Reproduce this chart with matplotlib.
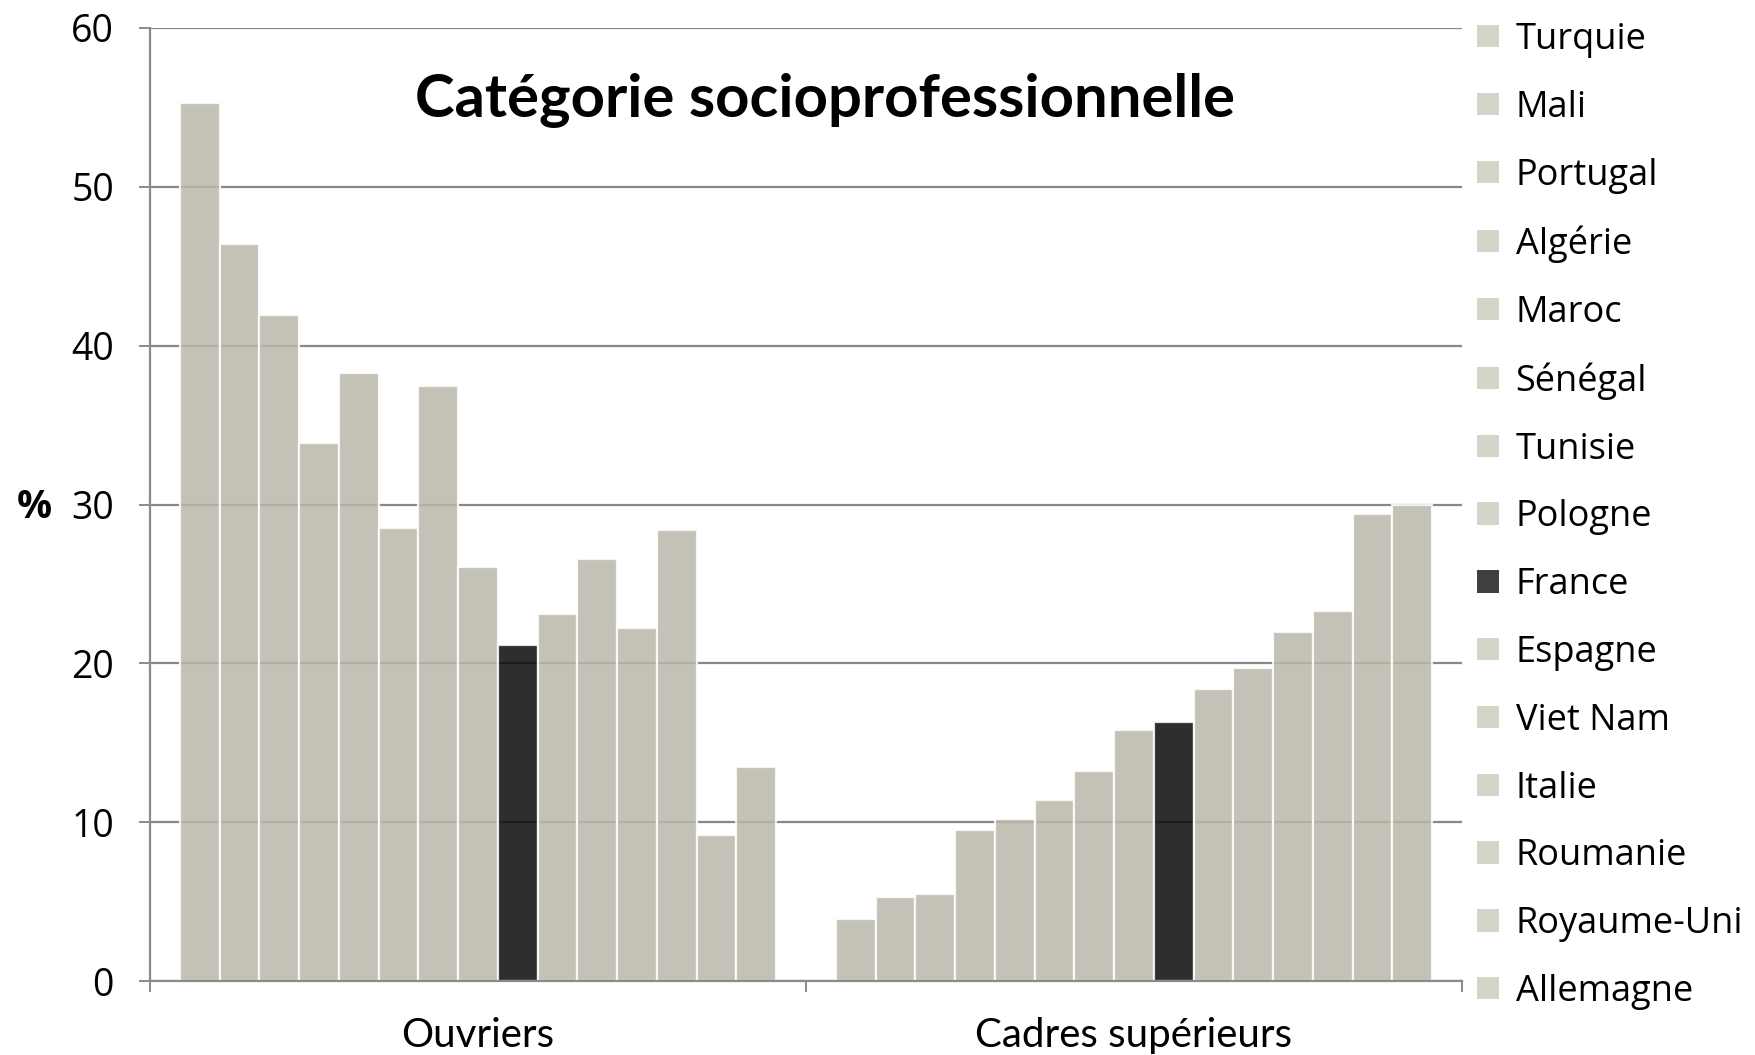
import matplotlib
matplotlib.use("Agg")
import matplotlib.pyplot as plt
from matplotlib.patches import Patch
import numpy as np

categories = ["Ouvriers", "Cadres supérieurs"]
countries_ouvriers = ["Turquie", "Mali", "Portugal", "Algérie", "Maroc", "Sénégal", "Tunisie",
                      "Pologne", "France", "Espagne", "Viet Nam", "Italie", "Roumanie",
                      "Royaume-Uni", "Allemagne"]
ouvriers = [55.25, 46.4, 41.9, 33.85, 38.25, 28.5, 37.45, 26.05, 21.15, 23.1, 26.55, 22.2, 28.4, 9.2, 13.5]
# cadres supérieurs, same series order as the legend
cadres = [3.9, 5.3, 5.5, 9.5, 10.2, 11.4, 13.2, 15.8, 16.3, 18.4, 19.7, 22.0, 23.3, 29.4, 30.0]
yticks = [0, 10, 20, 30, 40, 50, 60]
highlight = "France"

bar_col = (186/255, 184/255, 169/255)
fr_col = (9/255, 9/255, 9/255)
leg_col = "#D5D4C9"
leg_fr = "#404040"

fig = plt.figure(figsize=(17.56, 10.55), dpi=100)
ax = fig.add_axes([150/1756, 1-981/1055, (1462-150)/1756, (981-28)/1055])

n = len(countries_ouvriers)
group_w = 0.909
w = group_w / n
x = np.arange(len(categories))
for i, name in enumerate(countries_ouvriers):
    vals = [ouvriers[i], cadres[i]]
    c = fr_col if name == highlight else bar_col
    ax.bar(x + (i - (n - 1) / 2) * w, vals, width=w, color=c, alpha=0.85,
           edgecolor="white", linewidth=1.6, zorder=2)

ax.set_xlim(-0.5, 1.5)
ax.set_ylim(0, 60)
ax.set_yticks(yticks)
ax.set_yticklabels([str(t) for t in yticks], fontfamily="Open Sans", fontsize=27)
ax.yaxis.grid(True, color="#878787", linewidth=1.6, zorder=0)
ax.set_axisbelow(True)
for s in ["top", "right"]:
    ax.spines[s].set_visible(False)
for s in ["left", "bottom"]:
    ax.spines[s].set_color("#8a8a8a")
    ax.spines[s].set_linewidth(1.6)
ax.tick_params(axis="y", length=8, width=1.4, color="#8a8a8a", pad=18)
ax.set_xticks([-0.5, 0.5, 1.5])
ax.set_xticklabels([])
ax.set_xticks(x, minor=True)
ax.set_xticklabels(categories, minor=True, fontfamily="Lato", fontsize=29)
ax.tick_params(axis="x", which="major", length=8, width=1.4, color="#8a8a8a")
ax.tick_params(axis="x", which="minor", length=0, pad=26)

ax.text(-0.088, 0.497, "%", transform=ax.transAxes, fontsize=28, fontweight="bold",
        fontfamily="Open Sans", ha="center", va="center")

fig.text(825/1756, 1-100/1055, "Catégorie socioprofessionnelle", ha="center", va="center",
         fontsize=43, fontweight="bold", fontfamily="Lato")

handles = [Patch(facecolor=(leg_fr if nm == highlight else leg_col), edgecolor="none")
           for nm in countries_ouvriers]
leg = fig.legend(handles, countries_ouvriers, loc="upper left",
                 bbox_to_anchor=(1477/1756, 1-22/1055), frameon=False,
                 prop={"family": "Open Sans", "size": 26},
                 handlelength=0.62, handleheight=0.58, handletextpad=0.45,
                 labelspacing=0.88, borderpad=0, borderaxespad=0)

fig.savefig("out.png", dpi=100)
